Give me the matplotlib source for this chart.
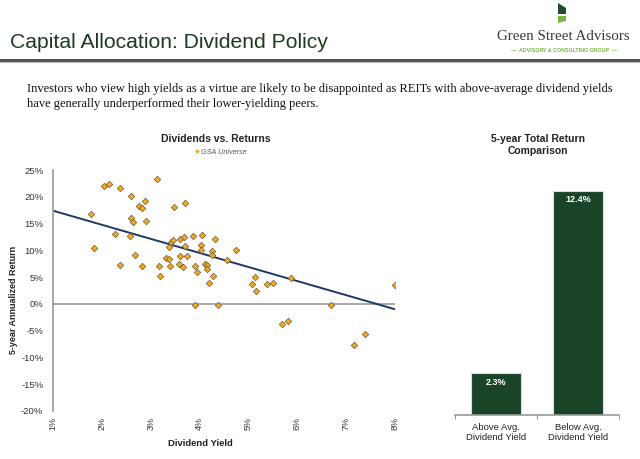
import matplotlib
matplotlib.use("Agg")
import matplotlib.pyplot as plt
from matplotlib.patches import Polygon
import numpy as np

plt.rcParams['font.family'] = ['Liberation Sans', 'DejaVu Sans']

# scatter data: dividend yield (%) vs 5-year annualized return (%)
div_yield = [1.77, 1.83, 2.04, 2.15, 2.38, 2.27, 2.38, 2.60, 2.60, 2.64,
             2.57, 2.68, 2.83, 2.75, 2.82, 2.88, 2.90, 3.13, 3.16, 3.18,
             3.32, 3.38, 3.40, 3.37, 3.41, 3.45, 3.47, 3.59, 3.58, 3.67,
             3.60, 3.69, 3.71, 3.71, 3.74, 3.87, 3.90, 3.94, 4.05, 4.03,
             4.03, 4.12, 4.16, 4.16, 4.26, 4.25, 4.32, 4.28, 4.19, 4.56,
             4.74, 5.14, 5.08, 5.15, 5.38, 5.50, 5.88, 8.00, 3.90, 4.37,
             5.68, 5.82, 6.69, 7.16, 7.39]
ann_return = [16.7, 10.4, 22.1, 22.3, 21.6, 13.1, 7.3, 20.1, 16.1, 15.2,
              12.6, 9.2, 7.1, 18.2, 17.9, 19.2, 15.5, 23.3, 7.1, 5.3,
              8.5, 8.3, 7.1, 10.7, 11.6, 11.9, 18.0, 8.9, 7.5, 6.8,
              12.1, 12.5, 10.8, 18.9, 9.0, 12.6, 7.0, 6.0, 12.8, 11.0,
              10.1, 7.4, 7.3, 6.5, 9.8, 9.1, 12.1, 5.2, 3.9, 8.2,
              10.1, 5.1, 3.7, 2.5, 3.7, 3.9, 4.9, 3.6, -0.3, -0.2,
              -3.8, -3.2, -0.2, -7.6, -5.7]

# trend line end points
trend_x = [1, 8]
trend_y = [17.4, -1.0]

x_ticks = [1, 2, 3, 4, 5, 6, 7, 8]
y_ticks = [-20, -15, -10, -5, 0, 5, 10, 15, 20, 25]

# bar chart
bar_labels = ['Above Avg.\nDividend Yield', 'Below Avg.\nDividend Yield']
bar_values = [2.3, 12.4]

W, H = 640, 459
fig = plt.figure(figsize=(6.4, 4.59), dpi=100)
fig.patch.set_facecolor('white')

def fx(px):
    return px / W

def fy(py):
    return 1 - py / H

# ---- header ----
fig.text(fx(10), fy(42), 'Capital Allocation: Dividend Policy', fontsize=15.2,
         color='#1c3a1f', va='center', ha='left')
fig.text(fx(497), fy(36), 'Green Street Advisors', fontsize=10.8,
         family='Liberation Serif', color='#3a3a3a', va='center', ha='left')
fig.text(fx(564), fy(51), '\u2014  ADVISORY & CONSULTING GROUP  \u2014', fontsize=3.8,
         fontweight='bold', color='#7cb342', va='center', ha='center')
# logo mark
fig.patches.append(Polygon([(fx(558), fy(3)), (fx(566), fy(8)), (fx(566), fy(14)),
                            (fx(558), fy(14))], closed=True, transform=fig.transFigure,
                           facecolor='#1f4d2b', edgecolor='none'))
fig.patches.append(Polygon([(fx(558), fy(16)), (fx(566), fy(16)), (fx(566), fy(21)),
                            (fx(558), fy(23))], closed=True, transform=fig.transFigure,
                           facecolor='#7cb342', edgecolor='none'))
# divider line
fig.add_artist(plt.Line2D([0, 1], [fy(60), fy(60)], transform=fig.transFigure,
                          color='#555555', linewidth=2.2))
fig.add_artist(plt.Line2D([0, 1], [fy(62), fy(62)], transform=fig.transFigure,
                          color='#bbbbbb', linewidth=0.8))

# ---- body text ----
fig.text(fx(27), fy(89), 'Investors who view high yields as a virtue are likely to be disappointed '
         'as REITs with above-average dividend yields', fontsize=9.0,
         family='Liberation Serif', color='#111111', va='center', ha='left')
fig.text(fx(27), fy(104), 'have generally underperformed their lower-yielding peers.',
         fontsize=9.0, family='Liberation Serif', color='#111111', va='center', ha='left')

# ---- scatter ----
ax = fig.add_axes([fx(53), fy(411), (395 - 53) / W, (411 - 170) / H])
ax.scatter(div_yield, ann_return, marker='D', s=11, facecolor='#f2a922',
           edgecolor='#6b5a3a', linewidth=0.5, zorder=3)
ax.plot(trend_x, trend_y, color='#1f3864', linewidth=1.4, zorder=2)
ax.axhline(0, color='#9a9a9a', linewidth=1.2, zorder=1)
ax.set_xlim(1, 8)
ax.set_ylim(-20, 25)
ax.set_xticks(x_ticks)
ax.set_xticklabels([f'{t}%' for t in x_ticks], rotation=90, fontsize=6.5, color='#333333')
ax.set_yticks(y_ticks)
ax.set_yticklabels([f'{t}%' for t in y_ticks], fontsize=6.8, color='#333333')
ax.tick_params(axis='both', length=0)
ax.tick_params(axis='y', pad=7)
ax.tick_params(axis='x', pad=4)
for s in ['top', 'right', 'bottom']:
    ax.spines[s].set_visible(False)
ax.spines['left'].set_color('#9a9a9a')
ax.spines['left'].set_linewidth(1.2)
ax.set_facecolor('none')

fig.text(fx(216), fy(139), 'Dividends vs. Returns', fontsize=7.5, fontweight='bold',
         color='#222222', ha='center', va='center')
fig.text(fx(197), fy(152), '\u25c6', fontsize=4.5, color='#f2a922',
         ha='center', va='center', family='DejaVu Sans')
fig.text(fx(201), fy(152), 'GSA Universe', fontsize=5.2, style='italic',
         color='#555555', ha='left', va='center')
fig.text(fx(200), fy(444), 'Dividend Yield', fontsize=6.8, fontweight='bold',
         color='#222222', ha='center', va='center')
fig.text(fx(14), fy(300), '5-year Annualized Return', fontsize=6.5, fontweight='bold',
         color='#222222', ha='center', va='center', rotation=90)

# ---- bars ----
bx = fig.add_axes([fx(455), fy(414.7), (619 - 455) / W, (414.7 - 170) / H])
pos = np.arange(len(bar_values))
bars = bx.bar(pos, bar_values, width=0.62, color='#1a4427', edgecolor='#dddddd',
              linewidth=0.8)
for b, v in zip(bars, bar_values):
    bx.text(b.get_x() + b.get_width() / 2, v - 0.5, f'{v:.1f}%', color='white',
            fontsize=6.5, fontweight='bold', ha='center', va='center')
bx.set_xlim(-0.5, 1.5)
bx.set_ylim(0, 13.55)
bx.set_yticks([])
bx.set_xticks(pos)
bx.set_xticklabels(bar_labels, fontsize=6.8, color='#222222', linespacing=1.15)
bx.set_xticks([-0.5, 0.5, 1.5], minor=True)
bx.tick_params(axis='x', which='major', length=0, pad=6)
bx.tick_params(axis='x', which='minor', length=3, color='#9a9a9a', width=0.8)
for s in ['top', 'right', 'left']:
    bx.spines[s].set_visible(False)
bx.spines['bottom'].set_color('#9a9a9a')
bx.spines['bottom'].set_linewidth(1.2)
bx.set_facecolor('none')
fig.text(fx(538), fy(145), '5-year Total Return\nComparison', fontsize=7.5,
         fontweight='bold', color='#222222', ha='center', va='center', linespacing=1.15)

fig.savefig('out.png', dpi=100)
